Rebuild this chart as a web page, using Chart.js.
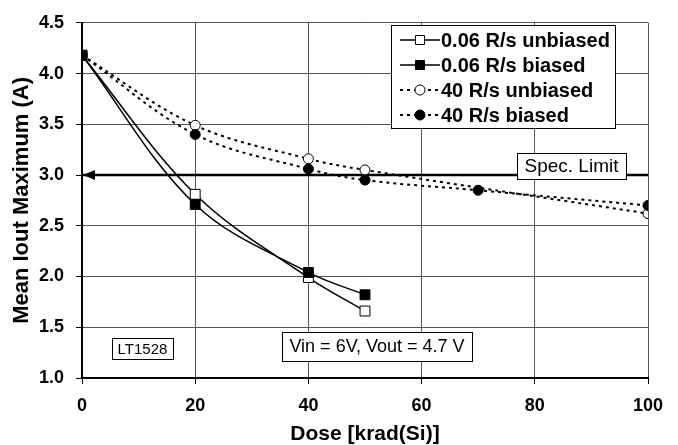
<!DOCTYPE html>
<html>
<head>
<meta charset="utf-8">
<script src="https://cdn.jsdelivr.net/npm/chart.js@4.4.1/dist/chart.umd.min.js"></script>
<style>
  html, body { margin: 0; padding: 0; background: #fff; }
</style>
</head>
<body>
<canvas id="doseChart" width="678" height="445"></canvas>
<script>
// values
const doseLow = [0, 20, 40, 50];
const lowUnbiased = [4.18, 2.81, 1.99, 1.66];
const lowBiased = [4.18, 2.71, 2.04, 1.82];
const doseHighUnbiased = [0, 20, 40, 50, 100];
const highUnbiased = [4.18, 3.49, 3.16, 3.05, 2.62];
const doseHighBiased = [0, 20, 40, 50, 70, 100];
const highBiased = [4.18, 3.40, 3.06, 2.95, 2.85, 2.70];
const specDose = [0, 100];
const specLimit = 3.0;
const seriesNames = ['0.06 R/s unbiased', '0.06 R/s biased', '40 R/s unbiased', '40 R/s biased'];

const FONT = "'Liberation Sans', Arial, sans-serif";

function pts(xs, ys) {
    return xs.map((x, i) => ({ x: x, y: ys[i] }));
}

// legend drawn as a boxed key inside the plot, like the original
const boxLegend = {
    id: 'boxLegend',
    afterDraw(chart) {
        const ctx = chart.ctx;
        ctx.save();
        ctx.fillStyle = '#fff';
        ctx.fillRect(391, 25, 224, 103);
        ctx.strokeStyle = '#000';
        ctx.lineWidth = 1;
        ctx.strokeRect(391.5, 25.5, 224, 103);
        ctx.font = 'bold 20px ' + FONT;
        ctx.textBaseline = 'middle';
        for (let i = 0; i < 4; i++) {
            const ds = chart.data.datasets[i];
            const y = 40 + i * 25;
            ctx.strokeStyle = '#000';
            ctx.lineWidth = ds.borderWidth;
            ctx.setLineDash(ds.borderDash || []);
            ctx.beginPath();
            ctx.moveTo(400, y);
            ctx.lineTo(440, y);
            ctx.stroke();
            ctx.setLineDash([]);
            ctx.lineWidth = 1;
            ctx.fillStyle = ds.pointBackgroundColor;
            ctx.beginPath();
            if (ds.pointStyle === 'rect') {
                ctx.rect(415.5, y - 4.5, 9, 9);
            } else {
                ctx.arc(420, y, 5, 0, Math.PI * 2);
            }
            ctx.fill();
            ctx.stroke();
            ctx.fillStyle = '#000';
            ctx.fillText(seriesNames[i], 441, y + 1);
        }
        ctx.restore();
    }
};

// arrowhead on the spec line plus the text boxes
const notes = {
    id: 'notes',
    afterDatasetsDraw(chart) {
        const ctx = chart.ctx;
        const xs = chart.scales.x, ys = chart.scales.y;
        const tipX = xs.getPixelForValue(0) + 1;
        const yy = ys.getPixelForValue(specLimit);
        ctx.save();
        ctx.fillStyle = '#000';
        ctx.beginPath();
        ctx.moveTo(tipX, yy);
        ctx.lineTo(tipX + 12, yy - 5);
        ctx.lineTo(tipX + 12, yy + 5);
        ctx.closePath();
        ctx.fill();

        function box(text, size, l, t, w, h) {
            ctx.fillStyle = '#fff';
            ctx.fillRect(l, t, w, h);
            ctx.strokeStyle = '#000';
            ctx.lineWidth = 1;
            ctx.strokeRect(l + 0.5, t + 0.5, w, h);
            ctx.fillStyle = '#000';
            ctx.font = size + 'px ' + FONT;
            ctx.textAlign = 'center';
            ctx.textBaseline = 'middle';
            ctx.fillText(text, l + w / 2, t + h / 2 + 1);
        }
        box('Spec. Limit', 19, 517, 153, 109, 26);
        box('LT1528', 15, 112, 338, 61, 21);
        box('Vin = 6V, Vout = 4.7 V', 18, 282, 332, 190, 29);
        ctx.restore();
    }
};

const ctx = document.getElementById('doseChart').getContext('2d');
const doseChart = new Chart(ctx, {
    type: 'line',
    data: {
        datasets: [
            {
                label: seriesNames[0],
                data: pts(doseLow, lowUnbiased),
                borderColor: '#000',
                borderWidth: 1.5,
                tension: 0.35,
                pointStyle: 'rect',
                pointRadius: 7,
                pointBorderWidth: 1,
                pointBorderColor: '#000',
                pointBackgroundColor: '#fff',
                order: 2
            },
            {
                label: seriesNames[1],
                data: pts(doseLow, lowBiased),
                borderColor: '#000',
                borderWidth: 1.5,
                tension: 0.35,
                pointStyle: 'rect',
                pointRadius: 7,
                pointBorderWidth: 1,
                pointBorderColor: '#000',
                pointBackgroundColor: '#000',
                order: 1
            },
            {
                label: seriesNames[2],
                data: pts(doseHighUnbiased, highUnbiased),
                borderColor: '#000',
                borderWidth: 2,
                borderDash: [3, 4],
                tension: 0.35,
                pointStyle: 'circle',
                pointRadius: 5,
                pointBorderWidth: 1,
                pointBorderColor: '#000',
                pointBackgroundColor: '#fff',
                order: 4
            },
            {
                label: seriesNames[3],
                data: pts(doseHighBiased, highBiased),
                borderColor: '#000',
                borderWidth: 2,
                borderDash: [3, 4],
                tension: 0.35,
                pointStyle: 'circle',
                pointRadius: 5,
                pointBorderWidth: 1,
                pointBorderColor: '#000',
                pointBackgroundColor: '#000',
                order: 3
            },
            {
                label: 'Spec. Limit',
                data: pts(specDose, specDose.map(() => specLimit)),
                borderColor: '#000',
                borderWidth: 2.5,
                pointRadius: 0,
                order: 5
            }
        ]
    },
    options: {
        responsive: false,
        animation: false,
        events: [],
        layout: {
            padding: { top: 11, right: 30, bottom: 0, left: 0 }
        },
        plugins: {
            legend: { display: false },
            tooltip: { enabled: false }
        },
        scales: {
            x: {
                type: 'linear',
                min: 0,
                max: 100,
                ticks: {
                    stepSize: 20,
                    color: '#000',
                    padding: 11,
                    font: { family: FONT, size: 18, weight: 'bold' }
                },
                grid: { color: '#555', tickColor: '#000', tickLength: 6 },
                border: { color: '#000', width: 2 },
                title: {
                    display: true,
                    text: 'Dose [krad(Si)]',
                    color: '#000',
                    padding: { top: 0, bottom: 0 },
                    font: { family: FONT, size: 21, weight: 'bold', lineHeight: 1 }
                },
                afterFit(scale) { scale.height = 67; }
            },
            y: {
                min: 1,
                max: 4.5,
                ticks: {
                    stepSize: 0.5,
                    color: '#000',
                    padding: 12,
                    font: { family: FONT, size: 18, weight: 'bold' },
                    callback: v => v.toFixed(1)
                },
                grid: { color: '#555', tickColor: '#000', tickLength: 6 },
                border: { color: '#000', width: 2 },
                title: {
                    display: true,
                    text: 'Mean Iout Maximum (A)',
                    color: '#000',
                    padding: { top: 11, bottom: 0 },
                    font: { family: FONT, size: 22, weight: 'bold', lineHeight: 1 }
                },
                afterFit(scale) { scale.width = 82; }
            }
        }
    },
    plugins: [notes, boxLegend]
});
</script>
</body>
</html>
